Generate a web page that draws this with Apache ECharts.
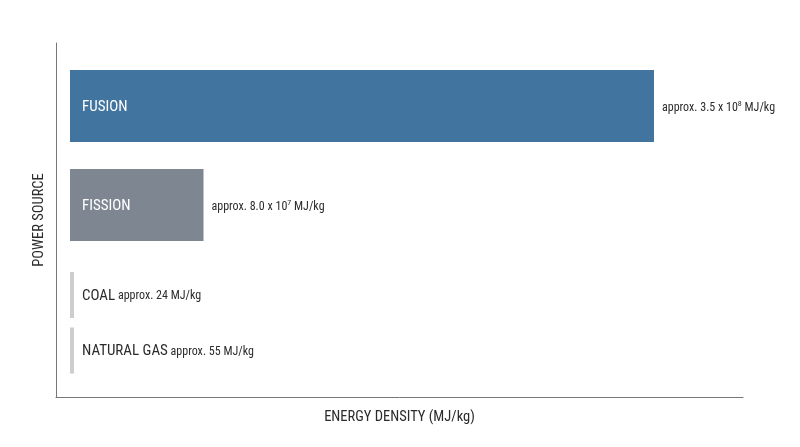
<!DOCTYPE html>
<html>
<head>
<meta charset="utf-8">
<script src="https://cdn.jsdelivr.net/npm/echarts@6/dist/echarts.min.js"></script>
<style>
  html, body { margin: 0; padding: 0; background: #fff; }
  #chart { width: 800px; height: 447px; }
</style>
</head>
<body>
<div id="chart"></div>
<script>
const FONT = '"Roboto Condensed", "Liberation Sans Narrow", "DejaVu Sans Condensed", Roboto, sans-serif';

// big sources (drawn to scale)
const bigSources = ['FUSION', 'FISSION'];
const bigValues = [3.5e8, 8.0e7];
const bigMantissa = ['3.5', '8.0'];
const bigExponent = ['8', '7'];
const bigColors = ['#41759f', '#7e8791'];

// fossil sources (too small to see at this scale)
const smallSources = ['COAL', 'NATURAL GAS'];
const smallValues = [24, 55];

const AXIS_MIN = -8.39e6;
const AXIS_MAX = 4.0334e8;

const chart = echarts.init(document.getElementById('chart'), null, { renderer: 'canvas' });

const hiddenAxis = {
  show: false,
};

const option = {
  animation: false,
  textStyle: { fontFamily: FONT },
  grid: [
    // frame with the two axis lines
    { left: 56, right: 57, top: 43, bottom: 50 },
    // fusion / fission
    { left: 56, right: 57, top: 56.5, height: 198 },
    // coal / natural gas
    { left: 56, right: 57, top: 267.25, height: 111 },
  ],
  xAxis: [
    {
      gridIndex: 0,
      type: 'value',
      min: 0,
      max: 1,
      axisLine: { show: true, onZero: false, lineStyle: { color: '#777', width: 1 } },
      axisTick: { show: false },
      axisLabel: { show: false },
      splitLine: { show: false },
      name: 'ENERGY DENSITY (MJ/kg)',
      nameLocation: 'middle',
      nameGap: 13,
      nameTextStyle: { fontSize: 14.5, color: '#2b2b2b', fontFamily: FONT },
    },
    { gridIndex: 1, type: 'value', min: AXIS_MIN, max: AXIS_MAX, ...hiddenAxis },
    { gridIndex: 2, type: 'value', min: AXIS_MIN, max: AXIS_MAX, ...hiddenAxis },
  ],
  yAxis: [
    {
      gridIndex: 0,
      type: 'value',
      min: 0,
      max: 1,
      axisLine: { show: true, onZero: false, lineStyle: { color: '#777', width: 1 } },
      axisTick: { show: false },
      axisLabel: { show: false },
      splitLine: { show: false },
      name: 'POWER SOURCE',
      nameLocation: 'middle',
      nameGap: 9,
      nameTextStyle: { fontSize: 14.5, color: '#2b2b2b', fontFamily: FONT },
    },
    { gridIndex: 1, type: 'category', inverse: true, data: bigSources, ...hiddenAxis },
    { gridIndex: 2, type: 'category', inverse: true, data: smallSources, ...hiddenAxis },
  ],
  series: [
    {
      name: 'big',
      type: 'bar',
      xAxisIndex: 1,
      yAxisIndex: 1,
      barWidth: 72,
      data: bigValues.map((v, i) => ({ value: v, itemStyle: { color: bigColors[i] } })),
      label: {
        show: true,
        position: 'insideLeft',
        distance: 12,
        offset: [0, 1.5],
        formatter: '{b}',
        color: '#fff',
        fontSize: 15,
        fontFamily: FONT,
      },
      silent: true,
    },
    {
      name: 'bigText',
      type: 'bar',
      xAxisIndex: 1,
      yAxisIndex: 1,
      barWidth: 72,
      barGap: '-100%',
      data: bigValues,
      itemStyle: { color: 'rgba(0,0,0,0)' },
      label: {
        show: true,
        position: 'right',
        distance: 8,
        offset: [0, 1.5],
        formatter: p => `{a|approx. ${bigMantissa[p.dataIndex]} x 10}{s|${bigExponent[p.dataIndex]}}{a| MJ/kg}`,
        rich: {
          a: { fontSize: 12, color: '#2b2b2b', fontFamily: FONT },
          s: { fontSize: 8, color: '#2b2b2b', fontFamily: FONT, padding: [0, 0, 7, 0] },
        },
      },
      silent: true,
    },
    {
      name: 'small',
      type: 'bar',
      xAxisIndex: 2,
      yAxisIndex: 2,
      barWidth: 46,
      barMinHeight: 4,
      data: smallValues,
      itemStyle: { color: '#cdcdcd' },
      label: {
        show: true,
        position: 'right',
        distance: 8,
        offset: [0, 1],
        formatter: p => `{n|${p.name}} {a|approx. ${p.value} MJ/kg}`,
        rich: {
          n: { fontSize: 15, color: '#2b2b2b', fontFamily: FONT },
          a: { fontSize: 12, color: '#2b2b2b', fontFamily: FONT },
        },
      },
      silent: true,
    },
  ],
};

chart.setOption(option);
window.addEventListener('resize', chart.resize);
</script>
</body>
</html>
